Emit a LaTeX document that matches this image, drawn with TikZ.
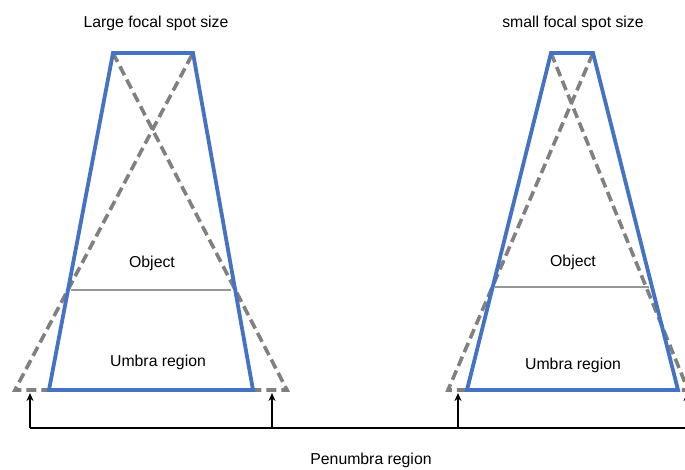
\documentclass[tikz,border=0pt]{standalone}
\usepackage{fontspec}
\setmainfont{Liberation Sans}
\usetikzlibrary{arrows.meta}
\definecolor{beamblue}{RGB}{68,114,196}
\definecolor{penGray}{RGB}{128,128,128}
\definecolor{objGray}{RGB}{150,150,150}
\begin{document}
\begin{tikzpicture}[x=1pt,y=-1pt,
  lbl/.style={font=\fontsize{15.8}{19}\selectfont, inner sep=0pt},
  beam/.style={draw=beamblue, line width=3.8pt, line join=miter},
  pen/.style={draw=penGray, line width=3.6pt, dash pattern=on 10pt off 5pt},
  objline/.style={draw=objGray, line width=1.2pt},
  arr/.style={draw=black, line width=1.8pt, -{Stealth[length=8pt,width=7pt]}}]
\useasboundingbox (0,0) rectangle (685,469);
\clip (0,0) rectangle (685,469);
% ---- left (large focal spot)
\coordinate (LTL) at (113,53);
\coordinate (LTR) at (193,53);
\coordinate (LBL) at (49,390);
\coordinate (LBR) at (253,390);
\coordinate (LPL) at (15,390);
\coordinate (LPR) at (287,390);
\draw[pen] (LTL) -- (LPR) -- (LPL) -- (LTR);
\draw[beam] (LTL) -- (LTR) -- (LBR) -- (LBL) -- cycle;
\coordinate (LOa) at (71,290);
\coordinate (LOb) at (231,290);
\draw[objline] (LOa) -- (LOb);
% ---- right (small focal spot)
\coordinate (RTL) at (551,53);
\coordinate (RTR) at (593,53);
\coordinate (RBL) at (467,390);
\coordinate (RBR) at (678,390);
\coordinate (RPL) at (448,390);
\coordinate (RPR) at (688,390);
\draw[pen] (RTL) -- (RPR) -- (RPL) -- (RTR);
\draw[beam] (RTL) -- (RTR) -- (RBR) -- (RBL) -- cycle;
\coordinate (ROa) at (495,287);
\coordinate (ROb) at (649,287);
\draw[objline] (ROa) -- (ROb);
% ---- labels
\node[lbl] (t1) at (156,23) {Large focal spot size};
\node[lbl] (t2) at (573,23) {small focal spot size};
\node[lbl] (o1) at (152,263) {Object};
\node[lbl] (o2) at (573,262) {Object};
\node[lbl] (u1) at (158,362) {Umbra region};
\node[lbl] (u2) at (573,365) {Umbra region};
\node[lbl] (pn) at (371,460) {Penumbra region};
% ---- penumbra arrows
\coordinate (h0) at (30,428);
\coordinate (h1) at (272,428);
\coordinate (h2) at (458,428);
\coordinate (h3) at (687,428);
\coordinate (hE) at (692,428);
\coordinate (a0) at (30,393);
\coordinate (a1) at (272,393);
\coordinate (a2) at (458,393);
\coordinate (a3) at (687,393);
\draw[black, line width=1.8pt] (h0) -- (hE);
\draw[arr] (h0) -- (a0);
\draw[arr] (h1) -- (a1);
\draw[arr] (h2) -- (a2);
\draw[arr] (h3) -- (a3);
\end{tikzpicture}
\end{document}
